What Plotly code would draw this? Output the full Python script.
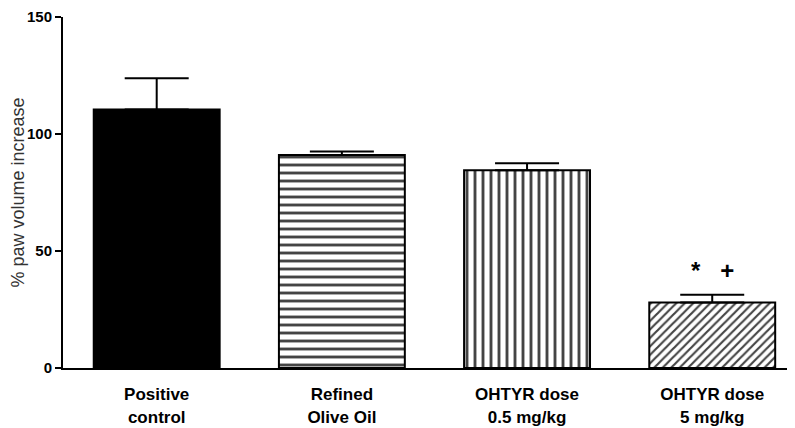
import plotly.graph_objects as go

categories = ["Positive<br>control", "Refined<br>Olive Oil", "OHTYR dose<br>0.5 mg/kg", "OHTYR dose<br>5 mg/kg"]
values = [110.5, 91.0, 84.5, 28.0]
errors = [13.3, 1.5, 3.0, 3.3]
patterns = ["", "-", "|", "/"]
pattern_sizes = [8, 8, 8, 6]
y_ticks = [0, 50, 100, 150]
sig_label = "*   +"

font_family = "Liberation Sans, Arial, sans-serif"

fig = go.Figure()
fig.add_trace(go.Bar(
    x=list(range(len(categories))),
    y=values,
    width=0.68,
    marker=dict(
        color=["black", "white", "white", "white"],
        line=dict(color="black", width=2),
        pattern=dict(
            shape=patterns,
            fgcolor="black",
            fgopacity=1,
            size=pattern_sizes,
            solidity=0.36,
            fillmode="overlay",
        ),
    ),
    error_y=dict(
        type="data",
        array=errors,
        arrayminus=[0] * len(errors),
        symmetric=False,
        color="black",
        thickness=2,
        width=32,
    ),
))

fig.add_annotation(
    x=3, y=values[3] + errors[3], yref="y", xref="x",
    text=sig_label, showarrow=False, yshift=24,
    font=dict(family=font_family, size=24, color="black", weight="bold"),
)

fig.update_layout(
    width=787, height=420,
    margin=dict(l=53, r=0, t=7, b=60),
    plot_bgcolor="white", paper_bgcolor="white",
    showlegend=False,
    font=dict(family=font_family, color="black"),
)
fig.update_xaxes(
    range=[-0.506, 3.447],
    tickmode="array", tickvals=list(range(len(categories))), ticktext=categories,
    tickfont=dict(family=font_family, size=17, color="black", weight="bold"),
    ticklabelstandoff=10,
    showline=True, linecolor="black", linewidth=2,
    ticks="", showgrid=False, zeroline=False,
)
fig.update_yaxes(
    range=[0, 150],
    tickmode="array", tickvals=y_ticks,
    tickfont=dict(family=font_family, size=15, color="black", weight="bold"),
    ticklabeloverflow="allow",
    showline=True, linecolor="black", linewidth=2,
    ticks="outside", ticklen=6, tickwidth=2, tickcolor="black",
    showgrid=False, zeroline=False,
    title=dict(text="% paw volume increase", font=dict(family=font_family, size=18, color="#333333"), standoff=6),
)

fig.write_html("out.html")
